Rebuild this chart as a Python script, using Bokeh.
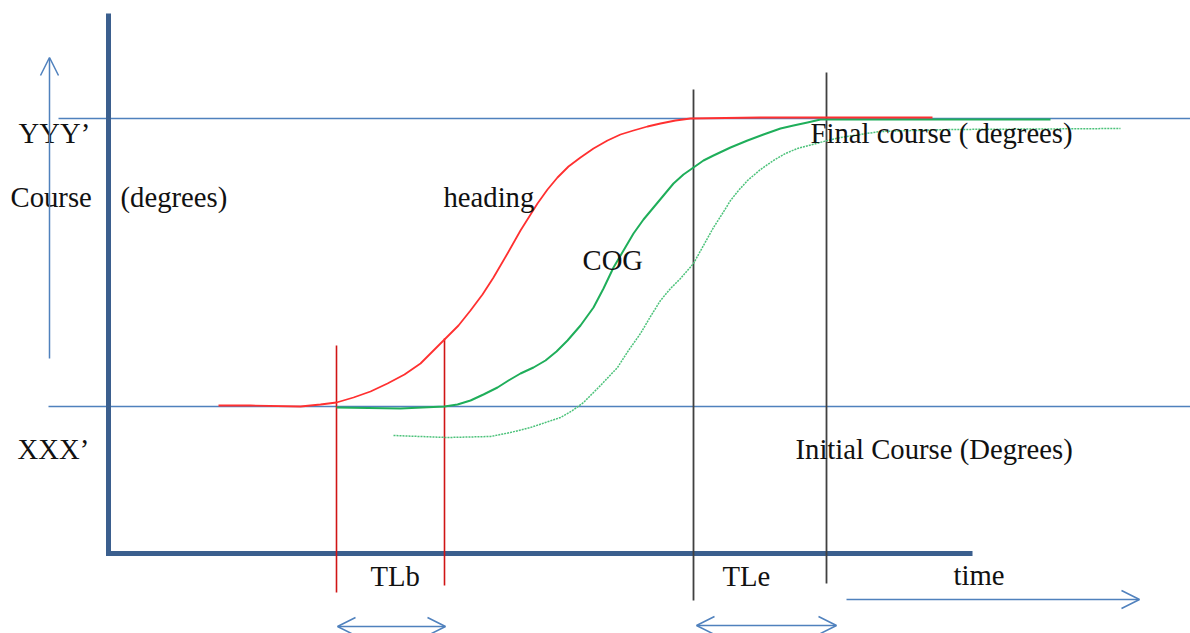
from bokeh.plotting import figure
from bokeh.models import Range1d, Arrow, OpenHead, ColumnDataSource
from bokeh.core.properties import value
from bokeh.embed import file_html
from bokeh.resources import INLINE

# ---- data (time in px-like units, course in px-like units, top = final course) ----
heading_t = [218, 250, 300, 320, 336, 353, 370, 387, 404, 420, 444, 458, 470, 482, 493, 507,
             520, 537, 547, 557, 568, 580, 593, 607, 620, 633, 647, 660, 675, 690, 760, 850, 932]
heading_c = [405, 405, 406, 404, 402, 397, 391, 383, 374, 363, 339, 325, 310, 294, 277, 253,
             230, 203, 189, 177, 166, 157, 148, 140, 134, 130, 126, 123, 120, 118, 117, 117, 117]

cog_t = [336, 400, 444, 457, 470, 483, 497, 508, 520, 533, 545, 556, 567, 580, 593, 603, 613,
         623, 633, 643, 653, 663, 673, 683, 693, 703, 713, 730, 747, 763, 780, 793, 807, 820,
         900, 1050]
cog_c = [407, 408, 406, 404, 400, 394, 387, 380, 373, 367, 360, 351, 340, 325, 307, 288, 267,
         250, 233, 219, 207, 195, 183, 174, 167, 160, 155, 147, 140, 134, 128, 125, 122, 119,
         119, 119]

cog2_t = [393, 447, 490, 510, 530, 545, 560, 572, 583, 600, 617, 628, 640, 650, 660, 670, 680,
          693, 703, 713, 722, 730, 738, 747, 760, 773, 785, 797, 812, 827, 840, 853, 866, 880,
          950, 1120]
cog2_c = [435, 437, 436, 432, 427, 422, 417, 410, 402, 385, 367, 350, 333, 316, 300, 288, 278,
          263, 245, 227, 213, 200, 190, 180, 169, 160, 153, 148, 144, 140, 137, 135, 133, 131,
          129, 128]

final_course = 118
initial_course = 406

tl_red = [336, 444]
tl_red_top = [345, 338]
tl_red_bot = [592, 585]
tl_black = [693, 826]
tl_black_top = [89, 72]
tl_black_bot = [600, 583]

labels = ["YYY\u2019", "Course", "(degrees)", "XXX\u2019", "heading", "COG",
          "Final course ( degrees)", "Initial Course (Degrees)", "TLb", "TLe", "time"]
label_x = [18, 10, 120, 17, 443, 582, 810, 795, 370, 722, 953]
label_y = [132, 196, 196, 448, 196, 259, 132, 448, 575, 575, 574]

p = figure(width=1190, height=633, x_range=Range1d(0, 1190), y_range=Range1d(633, 0),
           output_backend="svg", toolbar_location=None, min_border=0,
           x_axis_type=None, y_axis_type=None)
p.grid.visible = False
p.outline_line_color = None
p.background_fill_color = "white"

BLUE = "#4f81bd"
AXIS = "#3b5f8e"

# reference course lines
p.line([58, 1190], [final_course, final_course], line_color=BLUE, line_width=1.5)
p.line([48, 1190], [initial_course, initial_course], line_color=BLUE, line_width=1.5)

# main axes
p.line([108, 108, 972], [13, 553, 553], line_color=AXIS, line_width=5, line_join="miter")

# vertical markers
p.segment(x0=tl_red, y0=tl_red_top, x1=tl_red, y1=tl_red_bot, line_color="#d01515", line_width=1.6)
p.segment(x0=tl_black, y0=tl_black_top, x1=tl_black, y1=tl_black_bot, line_color="#404040", line_width=1.8)

# curves
p.line(cog2_t, cog2_c, line_color="#4cc27a", line_width=1.5, line_dash="2 1", line_join="round")
p.line(cog_t, cog_c, line_color="#1fae5a", line_width=2, line_join="round")
p.line(heading_t, heading_c, line_color="#ff3030", line_width=1.8, line_join="round")

# arrows
def arr(x0, y0, x1, y1, both=False):
    a = Arrow(end=OpenHead(size=18, line_color=BLUE, line_width=1.5),
              start=OpenHead(size=18, line_color=BLUE, line_width=1.5) if both else None,
              x_start=x0, y_start=y0, x_end=x1, y_end=y1,
              line_color=BLUE, line_width=1.5)
    p.add_layout(a)

arr(49, 358, 49, 57)
arr(337, 626, 445, 626, both=True)
arr(696, 625, 836, 625, both=True)
arr(846, 599, 1139, 599)

src = ColumnDataSource(dict(x=label_x, y=label_y, t=labels))
p.text(x="x", y="y", text="t", source=src, text_font=value("Liberation Serif"),
       text_font_size="28.7px", text_color="#111111", text_baseline="middle", text_align="left")

open("out.html", "w").write(file_html(p, INLINE))
